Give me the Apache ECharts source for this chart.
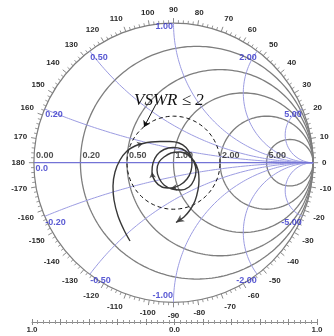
<!DOCTYPE html>
<html>
<head>
<meta charset="utf-8">
<script src="https://cdn.jsdelivr.net/npm/echarts@6/dist/echarts.min.js"></script>
<style>html,body{margin:0;padding:0;background:#fff}#c{width:334px;height:336px}</style>
</head>
<body>
<div id="c"></div>
<script>
// ---- data ----
const resistanceValues = [0, 0.2, 0.5, 1, 2, 5];
const reactanceValues = [0.2, 0.5, 1, 2, 5];
const angleMin = -180, angleMax = 180, angleStep = 10;
const rulerLabels = [-1, 0, 1];
const vswrLimit = 2;
const vswrText = 'VSWR \u2264 2';
// reflection coefficient trajectory (real, imaginary)
const curveRe = [-0.3116,-0.3546,-0.3975,-0.4262,-0.4334,-0.4190,-0.3832,-0.3331,-0.2758,-0.2185,-0.1612,-0.0967,-0.0251,0.0394,0.0895,0.1182,0.1325,0.1254,0.0967,0.0466,-0.0179,-0.0824,-0.1325,-0.1540,-0.1468,-0.1182,-0.0680,-0.0036,0.0609,0.1110,0.1468,0.1612,0.1468,0.1110,0.0537,-0.0107,-0.0680,-0.1039,-0.1182,-0.1039,-0.0680,-0.0179,0.0466,0.1039,0.1468,0.1755,0.1827,0.1755,0.1540,0.1182,0.0752,0.0179];
const curveIm = [-0.5609,-0.4821,-0.3818,-0.2672,-0.1669,-0.0666,0.0193,0.0838,0.1196,0.1375,0.1483,0.1519,0.1519,0.1411,0.1089,0.0623,0.0050,-0.0595,-0.1168,-0.1597,-0.1812,-0.1741,-0.1311,-0.0666,-0.0021,0.0552,0.0946,0.1089,0.0981,0.0623,0.0050,-0.0595,-0.1239,-0.1741,-0.1955,-0.1884,-0.1597,-0.1096,-0.0523,0.0050,0.0408,0.0695,0.0766,0.0552,0.0122,-0.0523,-0.1239,-0.1955,-0.2743,-0.3388,-0.3890,-0.4283];
const arrowIndices = [9, 20, 23];
const noteRe = [-0.125, -0.211];
const noteIm = [0.42, 0.256];

// ---- helpers ----
function gammaOf(r, x) { const d = (r + 1) * (r + 1) + x * x; return [(r * r - 1 + x * x) / d, 2 * x / d]; }
const series = [];
const gridLine = { type: 'line', xAxisIndex: 0, yAxisIndex: 0, showSymbol: false, symbol: 'none', silent: true, animation: false, z: 1 };

// resistance circles
resistanceValues.filter(r => r > 0).forEach(r => {
  const c = r / (1 + r), rad = 1 / (1 + r), pts = [];
  for (let i = 0; i <= 240; i++) { const t = i / 240 * 2 * Math.PI; pts.push([c + rad * Math.cos(t), rad * Math.sin(t)]); }
  series.push(Object.assign({}, gridLine, { data: pts, lineStyle: { color: '#7e7e7e', width: 1.3 } }));
});
// reactance arcs
reactanceValues.concat(reactanceValues.map(v => -v)).forEach(x => {
  const pts = [];
  for (let i = 0; i < 300; i++) { const r = Math.tan(i / 300 * Math.PI / 2); pts.push(gammaOf(r, x)); }
  pts.push([1, 0]);
  series.push(Object.assign({}, gridLine, { data: pts, lineStyle: { color: '#9c9ce2', width: 1 } }));
});
// real axis
series.push(Object.assign({}, gridLine, { data: [[-1, 0], [1, 0]], lineStyle: { color: '#7373d6', width: 1.2 } }));
// VSWR circle
const rho = (vswrLimit - 1) / (vswrLimit + 1);
const vs = [];
for (let i = 0; i <= 200; i++) { const t = i / 200 * 2 * Math.PI; vs.push([rho * Math.cos(t), rho * Math.sin(t)]); }
series.push(Object.assign({}, gridLine, { z: 3, data: vs, lineStyle: { color: '#111', width: 1, type: [4, 3] } }));

// resistance labels
series.push({ type: 'scatter', xAxisIndex: 0, yAxisIndex: 0, symbolSize: 1, itemStyle: { color: 'rgba(0,0,0,0)' }, silent: true, z: 4,
  data: resistanceValues.map(r => ({ value: [(r - 1) / (r + 1), 0], name: r.toFixed(2) })),
  label: { show: true, formatter: p => p.name, position: 'right', distance: 1.5, offset: [0, -7.5], fontSize: 9, fontWeight: 'bold', color: '#222', fontFamily: 'Liberation Sans' } });
// reactance labels
const reactLabelData = [{ value: [-1, 0], name: '0.0', label: { position: 'right', offset: [0, 6] } }];
reactanceValues.concat(reactanceValues.map(v => -v)).forEach(x => {
  const g = gammaOf(0, x); const ax = Math.abs(x);
  let lab;
  if (ax < 1) lab = { position: 'right', offset: [-1, 6] };
  else if (x === 1) lab = { position: 'left', offset: [1, 3.5] };
  else if (x === -1) lab = { position: 'left', offset: [1, -6.5] };
  else lab = { position: 'left', offset: [1, 6] };
  reactLabelData.push({ value: g, name: x.toFixed(2), label: lab });
});
series.push({ type: 'scatter', xAxisIndex: 0, yAxisIndex: 0, symbolSize: 1, itemStyle: { color: 'rgba(0,0,0,0)' }, silent: true, z: 4,
  data: reactLabelData,
  label: { show: true, formatter: p => p.name, distance: 1, fontSize: 9, fontWeight: 'bold', color: '#3030c8', fontFamily: 'Liberation Sans' } });

// trajectory
const curve = curveRe.map((v, i) => [v, curveIm[i]]);
series.push({ type: 'line', xAxisIndex: 0, yAxisIndex: 0, data: curve, showSymbol: false, symbol: 'none', smooth: 0.3, silent: true, z: 5,
  lineStyle: { color: '#383838', width: 1.4 } });
function rotAt(i) {
  const a = Math.max(0, i - 1), b = Math.min(curve.length - 1, i + 1);
  return Math.atan2(curve[b][1] - curve[a][1], curve[b][0] - curve[a][0]) * 180 / Math.PI - 90;
}
const arrows = arrowIndices.map(i => ({ value: curve[i], symbolRotate: rotAt(i) }));
arrows.push({ value: curve[curve.length - 1], symbolRotate: rotAt(curve.length - 1), symbolSize: [6, 8] });
series.push({ type: 'scatter', xAxisIndex: 0, yAxisIndex: 0, data: arrows, symbol: 'arrow', symbolSize: [5, 6], silent: true, z: 6,
  itemStyle: { color: '#333' } });
// annotation pointer
series.push({ type: 'lines', coordinateSystem: 'cartesian2d', xAxisIndex: 0, yAxisIndex: 0, silent: true, z: 6,
  data: [{ coords: [[noteRe[0], noteIm[0]], [noteRe[1], noteIm[1]]] }],
  symbol: ['none', 'arrow'], symbolSize: 6, lineStyle: { color: '#111', width: 1, opacity: 1 } });
// dummy series for ruler grid
series.push({ type: 'line', xAxisIndex: 1, yAxisIndex: 1, data: [], silent: true });

const rulerLabel = {
  show: true, margin: 4, fontSize: 8, fontWeight: 'bold', color: '#333', fontFamily: 'Liberation Sans',
  showMinLabel: true, showMaxLabel: true,
  formatter: v => rulerLabels.some(t => Math.abs(t - v) < 1e-6) ? Math.abs(v).toFixed(1) : ''
};

const option = {
  animation: false,
  backgroundColor: '#fff',
  grid: [
    { left: 33.9, top: 23.1, width: 279.2, height: 279.2 },
    { left: 32, top: 321, width: 285, height: 1 }
  ],
  xAxis: [
    { gridIndex: 0, type: 'value', min: -1, max: 1, show: false },
    { gridIndex: 1, type: 'value', min: -1, max: 1, interval: 0.2, position: 'bottom',
      axisLine: { show: true, lineStyle: { color: '#8a8a8a', width: 1 } },
      axisTick: { show: true, inside: false, length: 3, lineStyle: { color: '#8a8a8a' } },
      minorTick: { show: true, splitNumber: 5, length: 2, lineStyle: { color: '#999' } },
      splitLine: { show: false }, axisLabel: rulerLabel },
    { gridIndex: 1, type: 'value', min: -1, max: 1, interval: 0.2, position: 'bottom',
      axisLine: { show: false },
      axisTick: { show: true, inside: true, length: 3, lineStyle: { color: '#8a8a8a' } },
      minorTick: { show: true, splitNumber: 5, length: 2, lineStyle: { color: '#999' } },
      splitLine: { show: false }, axisLabel: { show: false } }
  ],
  yAxis: [
    { gridIndex: 0, type: 'value', min: -1, max: 1, show: false },
    { gridIndex: 1, type: 'value', min: 0, max: 1, show: false }
  ],
  polar: { center: [173.5, 162.7], radius: 139.6 },
  angleAxis: {
    type: 'value', min: angleMin, max: angleMax, interval: angleStep, startAngle: 180, clockwise: false,
    axisLine: { show: true, lineStyle: { color: '#7e7e7e', width: 1.2 } },
    axisTick: { show: true, length: 5, lineStyle: { color: '#8a8a8a' } },
    minorTick: { show: true, splitNumber: 5, length: 3, lineStyle: { color: '#999' } },
    splitLine: { show: false },
    axisLabel: { show: true, margin: 9, fontSize: 8, fontWeight: 'bold', color: '#2a2a2a', fontFamily: 'Liberation Sans',
      formatter: v => v === angleMax ? '' : (v === angleMin ? String(-angleMin) : String(v)) }
  },
  radiusAxis: { min: 0, max: 1, show: false },
  graphic: [
    { type: 'text', x: 134, y: 101, z: 10, style: { text: vswrText, font: 'italic 17px "Liberation Serif"', fill: '#111', verticalAlign: 'middle', align: 'left' } }
  ],
  series: series
};
const chart = echarts.init(document.getElementById('c'), null, { renderer: 'canvas' });
chart.setOption(option);
</script>
</body>
</html>
